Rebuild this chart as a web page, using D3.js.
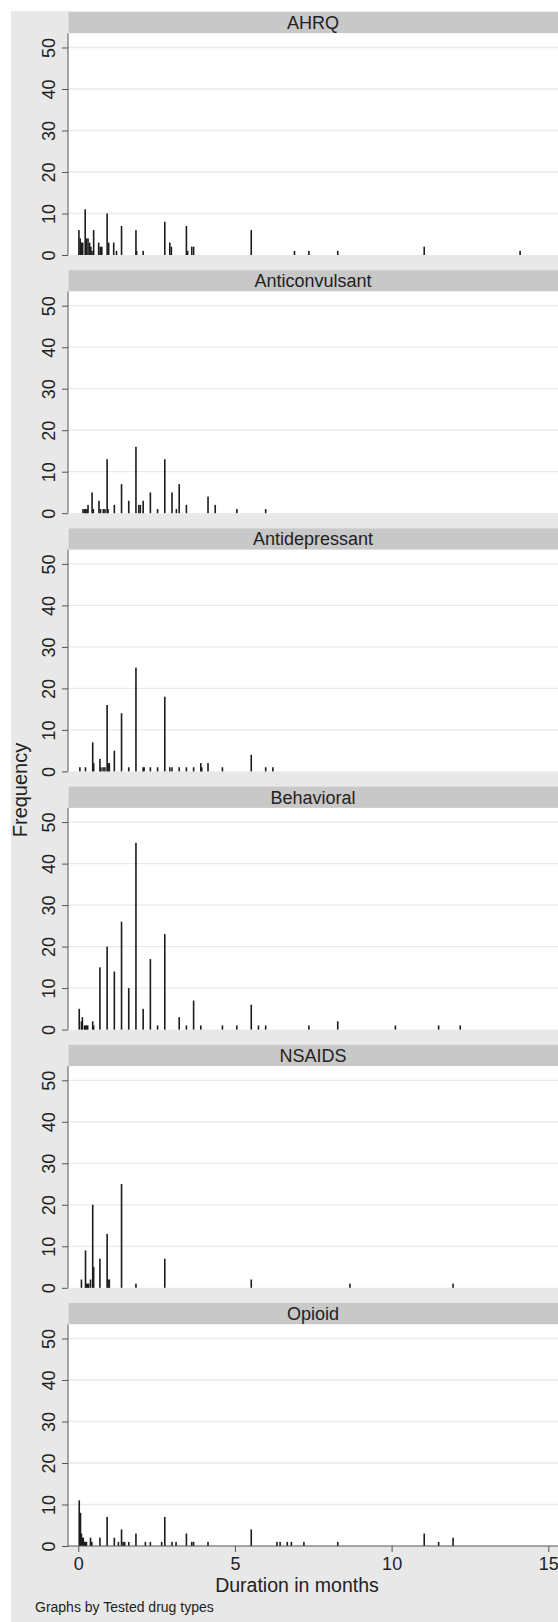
<!DOCTYPE html>
<html>
<head>
<meta charset="utf-8">
<script src="https://cdn.jsdelivr.net/npm/d3@7"></script>
<style>
  body { margin: 0; background: #fff; }
  text { font-family: "Liberation Sans", Arial, sans-serif; fill: #222; }
</style>
</head>
<body>
<div id="chart-area"></div>
<script>
// panel names (drug types)
var drugTypes = ["AHRQ", "Anticonvulsant", "Antidepressant", "Behavioral", "NSAIDS", "Opioid"];

// duration in months and frequency
var ahrqMonths = [0.02, 0.06, 0.10, 0.14, 0.22, 0.26, 0.31, 0.36, 0.40, 0.44, 0.49, 0.65, 0.70, 0.75, 0.92, 0.97, 1.13, 1.22, 1.38, 1.84, 1.86, 2.07, 2.76, 2.92, 2.97, 3.45, 3.49, 3.62, 3.68, 5.52, 6.90, 7.36, 8.28, 11.04, 14.1];
var ahrqFreq   = [6, 4, 3, 3, 11, 4, 4, 3, 2, 1, 6, 3, 2, 2, 10, 3, 3, 1, 7, 6, 1, 1, 8, 3, 2, 7, 1, 2, 2, 6, 1, 1, 1, 2, 1];

var anticonvMonths = [0.15, 0.20, 0.24, 0.28, 0.31, 0.44, 0.48, 0.66, 0.71, 0.80, 0.85, 0.92, 0.95, 1.15, 1.38, 1.61, 1.84, 1.93, 1.98, 2.07, 2.30, 2.53, 2.76, 2.99, 3.13, 3.22, 3.45, 4.14, 4.37, 5.06, 5.98];
var anticonvFreq   = [1, 1, 1, 1, 2, 5, 1, 3, 1, 1, 1, 13, 1, 2, 7, 3, 16, 2, 2, 3, 5, 1, 13, 5, 1, 7, 2, 4, 2, 1, 1];

var antidepMonths = [0.05, 0.23, 0.46, 0.49, 0.69, 0.72, 0.79, 0.85, 0.92, 0.95, 0.99, 1.15, 1.38, 1.61, 1.84, 2.07, 2.10, 2.30, 2.53, 2.76, 2.92, 2.99, 3.22, 3.45, 3.68, 3.91, 3.94, 4.14, 4.60, 5.52, 5.98, 6.21];
var antidepFreq   = [1, 1, 7, 2, 3, 1, 1, 1, 16, 2, 2, 5, 14, 1, 25, 1, 1, 1, 1, 18, 1, 1, 1, 1, 1, 2, 1, 2, 1, 4, 1, 1];

var behavMonths = [0.03, 0.10, 0.13, 0.20, 0.23, 0.26, 0.30, 0.46, 0.49, 0.69, 0.92, 1.15, 1.38, 1.61, 1.84, 2.07, 2.30, 2.53, 2.76, 3.22, 3.45, 3.68, 3.91, 4.60, 5.06, 5.52, 5.75, 5.98, 7.36, 8.28, 10.12, 11.50, 12.19];
var behavFreq   = [5, 2, 3, 1, 1, 1, 1, 2, 1, 15, 20, 14, 26, 10, 45, 5, 17, 1, 23, 3, 1, 7, 1, 1, 1, 6, 1, 1, 1, 2, 1, 1, 1];

var nsaidsMonths = [0.10, 0.23, 0.26, 0.30, 0.33, 0.39, 0.46, 0.49, 0.69, 0.92, 0.95, 0.99, 1.38, 1.84, 2.76, 5.52, 8.67, 11.96];
var nsaidsFreq   = [2, 9, 1, 1, 1, 2, 20, 5, 7, 13, 2, 2, 25, 1, 7, 2, 1, 1];

var opioidMonths = [0.03, 0.07, 0.10, 0.13, 0.16, 0.20, 0.23, 0.26, 0.39, 0.43, 0.69, 0.92, 1.15, 1.28, 1.38, 1.43, 1.48, 1.61, 1.84, 2.14, 2.30, 2.66, 2.76, 2.99, 3.12, 3.45, 3.62, 3.68, 4.14, 5.52, 6.34, 6.44, 6.67, 6.80, 7.20, 8.28, 11.04, 11.50, 11.96];
var opioidFreq   = [11, 8, 3, 2, 2, 1, 1, 1, 2, 1, 2, 7, 2, 1, 4, 1, 1, 1, 3, 1, 1, 1, 7, 1, 1, 3, 1, 1, 1, 4, 1, 1, 1, 1, 1, 1, 3, 1, 2];

var yTicks = [0, 10, 20, 30, 40, 50];
var xTicks = [0, 5, 10, 15];

var months = [ahrqMonths, anticonvMonths, antidepMonths, behavMonths, nsaidsMonths, opioidMonths];
var freqs = [ahrqFreq, anticonvFreq, antidepFreq, behavFreq, nsaidsFreq, opioidFreq];

var width = 558, height = 1622;
var plotLeft = 68, plotRight = 560;
var firstTop = 12, step = 258.2, stripH = 21.3, panelH = 243;  // strip top -> baseline
var barW = 1.6;

var svg = d3.select("#chart-area")
  .append("svg")
    .attr("width", width)
    .attr("height", height);

// gray graph region
svg.append("rect")
  .attr("x", 11).attr("y", 11)
  .attr("width", width - 11).attr("height", height - 11)
  .attr("fill", "#e8e8e8");

var x = d3.scaleLinear().domain([0, 15]).range([78.3, 548.3]);

drugTypes.forEach(function(name, i) {
  var top = firstTop + i * step;
  var base = top + panelH;
  var y = d3.scaleLinear().domain([0, 50]).range([base, base - 207.5]);

  var g = svg.append("g");

  // strip title
  g.append("rect")
    .attr("x", plotLeft + 0.6).attr("y", top)
    .attr("width", plotRight - plotLeft).attr("height", stripH)
    .attr("fill", "#c8c8c8");
  g.append("text")
    .attr("x", 313).attr("y", top + 17)
    .attr("text-anchor", "middle")
    .style("font-size", "18px")
    .text(name);

  // plot region
  g.append("rect")
    .attr("x", plotLeft).attr("y", top + stripH)
    .attr("width", plotRight - plotLeft).attr("height", base - top - stripH)
    .attr("fill", "#fff");

  // grid
  g.selectAll(".grid")
    .data(yTicks.filter(function(d) { return d > 0; }))
    .enter()
    .append("line")
      .attr("x1", plotLeft).attr("x2", plotRight)
      .attr("y1", function(d) { return y(d); })
      .attr("y2", function(d) { return y(d); })
      .attr("stroke", "#e9e9e9")
      .attr("stroke-width", 1.3);

  // bars
  var data = months[i].map(function(m, j) { return {m: m, f: freqs[i][j]}; });
  g.selectAll(".bar")
    .data(data)
    .enter()
    .append("rect")
      .attr("x", function(d) { return x(d.m) - barW / 2; })
      .attr("y", function(d) { return y(d.f); })
      .attr("width", barW)
      .attr("height", function(d) { return y(0) - y(d.f); })
      .attr("fill", "#1c1c1c");

  // y axis
  var yAxis = g.append("g")
    .attr("transform", "translate(" + plotLeft + ",0)")
    .call(d3.axisLeft(y).tickValues(yTicks).tickSize(6).tickFormat(d3.format("d")));
  yAxis.select(".domain")
    .attr("d", "M0," + (top + stripH) + "V" + base)
    .attr("stroke", "#555");
  yAxis.selectAll(".tick line").attr("stroke", "#555");
  yAxis.selectAll(".tick text")
    .attr("x", null).attr("dy", null)
    .attr("transform", "translate(-19,0) rotate(-90)")
    .attr("text-anchor", "middle")
    .attr("dy", "0.35em")
    .style("font-size", "18px")
    .style("font-family", "'Liberation Sans', Arial, sans-serif")
    .attr("fill", "#222");

  // x axis on the last panel only
  if (i === drugTypes.length - 1) {
    var xAxis = g.append("g")
      .attr("transform", "translate(0," + base + ")")
      .call(d3.axisBottom(x).tickValues(xTicks).tickSize(6).tickFormat(d3.format("d")));
    xAxis.select(".domain")
      .attr("d", "M" + plotLeft + ",0H" + plotRight)
      .attr("stroke", "#555");
    xAxis.selectAll(".tick line").attr("stroke", "#555");
    xAxis.selectAll(".tick text")
      .attr("y", 11.5)
      .style("font-size", "18px")
      .style("font-family", "'Liberation Sans', Arial, sans-serif")
      .attr("fill", "#222");
  }
});

svg.append("text")
  .attr("transform", "translate(20,790) rotate(-90)")
  .attr("text-anchor", "middle")
  .attr("dy", "0.35em")
  .style("font-size", "20px")
  .text("Frequency");

svg.append("text")
  .attr("x", 297).attr("y", 1592)
  .attr("text-anchor", "middle")
  .style("font-size", "19.5px")
  .text("Duration in months");

svg.append("text")
  .attr("x", 35).attr("y", 1612)
  .style("font-size", "14px")
  .text("Graphs by Tested drug types");
</script>
</body>
</html>
